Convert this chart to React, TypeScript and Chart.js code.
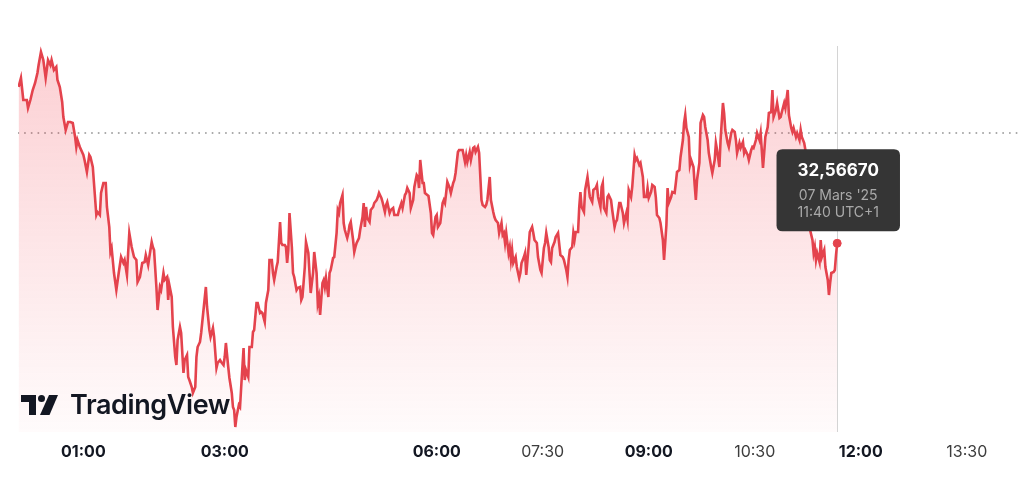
import React, { useEffect, useRef } from 'react';
import Chart from 'chart.js/auto';

// minutes since 00:00 (UTC+1), 07 Mar 2025
const times: number[] = [
    5, 7, 9, 12, 13, 15, 17, 19, 21, 22,
    24, 26, 28, 30, 32, 33, 35, 37, 38, 40,
    42, 43, 45, 47, 49, 51, 53, 54, 55, 57,
    60, 61, 63, 65, 66, 68, 69, 71, 72, 74,
    75, 77, 79, 80, 82, 83, 84, 86, 88, 90,
    92, 94, 95, 97, 98, 99, 101, 103, 105, 106,
    108, 110, 112, 113, 115, 116, 118, 119, 120, 122,
    123, 125, 126, 128, 129, 131, 132, 133, 135, 136,
    138, 139, 140, 142, 143, 145, 146, 148, 149, 150,
    152, 153, 155, 156, 157, 159, 160, 162, 164, 165,
    167, 168, 170, 171, 173, 174, 176, 177, 179, 180,
    181, 183, 184, 186, 187, 188, 189, 190, 192, 193,
    194, 196, 197, 198, 200, 201, 203, 204, 205, 207,
    208, 210, 211, 212, 214, 215, 217, 218, 220, 221,
    222, 224, 225, 227, 228, 229, 231, 232, 233, 234,
    235, 237, 238, 239, 241, 242, 244, 245, 246, 248,
    249, 251, 252, 253, 255, 256, 258, 259, 260, 261,
    263, 264, 265, 266, 268, 269, 270, 272, 273, 275,
    276, 277, 278, 280, 281, 282, 284, 285, 286, 287,
    289, 290, 291, 292, 294, 295, 297, 298, 299, 300,
    301, 303, 304, 306, 307, 309, 310, 311, 313, 314,
    316, 317, 318, 320, 321, 323, 324, 327, 328, 330,
    331, 333, 334, 335, 337, 338, 340, 341, 343, 344,
    345, 346, 348, 349, 350, 352, 353, 355, 356, 357,
    359, 360, 361, 363, 365, 366, 367, 368, 369, 371,
    372, 374, 375, 376, 378, 379, 381, 382, 384, 385,
    386, 388, 389, 391, 392, 393, 395, 396, 398, 399,
    401, 402, 403, 405, 406, 408, 409, 410, 412, 413,
    415, 416, 417, 418, 419, 421, 422, 423, 424, 425,
    427, 428, 430, 431, 432, 434, 435, 436, 438, 439,
    441, 442, 443, 445, 446, 448, 449, 451, 452, 453,
    455, 456, 457, 458, 460, 461, 463, 464, 465, 467,
    468, 470, 471, 472, 473, 475, 476, 477, 478, 480,
    481, 482, 483, 485, 486, 488, 489, 490, 492, 493,
    495, 496, 497, 499, 500, 501, 502, 504, 505, 506,
    508, 509, 511, 512, 513, 515, 516, 518, 519, 521,
    522, 523, 525, 526, 528, 529, 530, 532, 533, 535,
    536, 538, 539, 540, 542, 543, 545, 546, 547, 549,
    550, 552, 553, 555, 556, 557, 559, 560, 562, 563,
    564, 566, 567, 569, 570, 571, 572, 574, 575, 576,
    578, 579, 580, 581, 583, 584, 586, 587, 588, 590,
    591, 593, 594, 596, 597, 598, 600, 601, 603, 604,
    605, 607, 608, 610, 611, 613, 614, 615, 617, 618,
    620, 621, 622, 624, 625, 627, 628, 629, 631, 632,
    634, 635, 637, 638, 639, 641, 642, 644, 645, 646,
    648, 649, 651, 652, 653, 655, 656, 658, 659, 661,
    662, 663, 665, 666, 668, 669, 670, 672, 673, 674,
    676, 677, 679, 680, 681, 682, 683, 685, 686, 687,
    689, 690, 692, 693, 694, 695, 697, 698, 699, 700,
];

const prices: number[] = [
    32.723, 32.732, 32.710, 32.710, 32.702, 32.710, 32.720, 32.727, 32.737, 32.745,
    32.758, 32.750, 32.732, 32.750, 32.745, 32.750, 32.740, 32.743, 32.730, 32.723,
    32.708, 32.693, 32.680, 32.688, 32.688, 32.687, 32.673, 32.663, 32.670, 32.663,
    32.655, 32.650, 32.638, 32.655, 32.653, 32.643, 32.627, 32.595, 32.598, 32.595,
    32.617, 32.627, 32.627, 32.603, 32.583, 32.558, 32.562, 32.537, 32.520, 32.537,
    32.553, 32.547, 32.550, 32.535, 32.557, 32.577, 32.563, 32.553, 32.550, 32.528,
    32.533, 32.547, 32.548, 32.555, 32.545, 32.553, 32.568, 32.563, 32.560, 32.523,
    32.500, 32.523, 32.520, 32.537, 32.530, 32.533, 32.510, 32.525, 32.513, 32.483,
    32.453, 32.445, 32.470, 32.483, 32.477, 32.437, 32.450, 32.455, 32.433, 32.430,
    32.423, 32.417, 32.423, 32.453, 32.463, 32.468, 32.477, 32.500, 32.523, 32.503,
    32.480, 32.473, 32.482, 32.473, 32.442, 32.447, 32.450, 32.448, 32.445, 32.453,
    32.467, 32.443, 32.432, 32.417, 32.403, 32.400, 32.383, 32.393, 32.405, 32.403,
    32.423, 32.462, 32.430, 32.440, 32.433, 32.463, 32.463, 32.478, 32.480, 32.507,
    32.507, 32.497, 32.498, 32.497, 32.488, 32.507, 32.520, 32.550, 32.550, 32.537,
    32.530, 32.543, 32.548, 32.588, 32.567, 32.565, 32.565, 32.563, 32.547, 32.560,
    32.597, 32.563, 32.537, 32.533, 32.520, 32.522, 32.523, 32.510, 32.513, 32.543,
    32.568, 32.557, 32.537, 32.517, 32.537, 32.558, 32.537, 32.507, 32.513, 32.495,
    32.527, 32.530, 32.523, 32.532, 32.513, 32.537, 32.540, 32.552, 32.553, 32.577,
    32.600, 32.597, 32.607, 32.615, 32.587, 32.580, 32.572, 32.577, 32.585, 32.588,
    32.570, 32.558, 32.563, 32.567, 32.572, 32.580, 32.593, 32.607, 32.583, 32.603,
    32.592, 32.588, 32.600, 32.603, 32.607, 32.610, 32.613, 32.617, 32.612, 32.608,
    32.598, 32.605, 32.608, 32.597, 32.600, 32.602, 32.595, 32.595, 32.600, 32.607,
    32.602, 32.615, 32.617, 32.622, 32.617, 32.602, 32.610, 32.623, 32.635, 32.633,
    32.622, 32.650, 32.627, 32.627, 32.617, 32.615, 32.614, 32.597, 32.577, 32.575,
    32.593, 32.595, 32.583, 32.587, 32.607, 32.610, 32.607, 32.617, 32.628, 32.622,
    32.617, 32.627, 32.630, 32.637, 32.658, 32.660, 32.660, 32.660, 32.648, 32.655,
    32.648, 32.658, 32.650, 32.662, 32.663, 32.658, 32.663, 32.657, 32.610, 32.605,
    32.603, 32.605, 32.610, 32.633, 32.610, 32.598, 32.593, 32.590, 32.587, 32.577,
    32.587, 32.575, 32.577, 32.567, 32.577, 32.557, 32.563, 32.550, 32.560, 32.547,
    32.553, 32.543, 32.532, 32.537, 32.547, 32.553, 32.557, 32.535, 32.563, 32.578,
    32.583, 32.577, 32.570, 32.567, 32.553, 32.540, 32.537, 32.562, 32.567, 32.577,
    32.563, 32.550, 32.548, 32.562, 32.568, 32.573, 32.577, 32.566, 32.555, 32.553,
    32.550, 32.540, 32.533, 32.550, 32.560, 32.563, 32.577, 32.570, 32.578, 32.578,
    32.603, 32.618, 32.603, 32.598, 32.620, 32.633, 32.623, 32.613, 32.608, 32.620,
    32.622, 32.625, 32.613, 32.603, 32.623, 32.627, 32.602, 32.597, 32.613, 32.615,
    32.610, 32.600, 32.583, 32.588, 32.590, 32.607, 32.607, 32.597, 32.587, 32.597,
    32.590, 32.620, 32.613, 32.623, 32.655, 32.650, 32.652, 32.645, 32.647, 32.633,
    32.613, 32.613, 32.622, 32.612, 32.618, 32.625, 32.623, 32.613, 32.595, 32.592,
    32.587, 32.570, 32.550, 32.585, 32.622, 32.607, 32.613, 32.618, 32.617, 32.627,
    32.638, 32.640, 32.653, 32.670, 32.687, 32.695, 32.682, 32.673, 32.645, 32.650,
    32.643, 32.625, 32.610, 32.630, 32.647, 32.687, 32.695, 32.693, 32.683, 32.670,
    32.657, 32.643, 32.637, 32.650, 32.667, 32.660, 32.643, 32.670, 32.707, 32.697,
    32.680, 32.667, 32.663, 32.677, 32.680, 32.678, 32.670, 32.657, 32.667, 32.662,
    32.668, 32.657, 32.660, 32.655, 32.650, 32.660, 32.663, 32.662, 32.670, 32.677,
    32.670, 32.677, 32.642, 32.657, 32.673, 32.683, 32.697, 32.698, 32.720, 32.693,
    32.700, 32.707, 32.692, 32.693, 32.698, 32.707, 32.702, 32.720, 32.695, 32.682,
    32.678, 32.682, 32.673, 32.677, 32.670, 32.680, 32.673, 32.667, 32.660, 32.635,
    32.605, 32.580, 32.570, 32.557, 32.563, 32.550, 32.557, 32.548, 32.570, 32.553,
    32.560, 32.543, 32.530, 32.515, 32.527, 32.537, 32.538, 32.540, 32.555, 32.5667,
];

const prevClose = 32.677;
const dateLabel = "07 Mars '25";
const tickMinutes = [60, 180, 360, 450, 540, 630, 720, 810];
const boldMinutes = [60, 180, 360, 540, 720];

const xMin = 4.5;
const xMax = 857.5;
const yMin = 32.378;
const yMax = 32.764;

const lineRed = '#e4434d';

const hhmm = (m: number) => {
    const h = Math.floor(m / 60);
    const mm = Math.round(m % 60);
    return `${String(h).padStart(2, '0')}:${String(mm).padStart(2, '0')}`;
};

// vertical hover line through the last point
const crosshair = {
    id: 'crosshair',
    beforeDatasetsDraw(chart: any) {
        const meta = chart.getDatasetMeta(0);
        const pt = meta.data[meta.data.length - 1];
        if (!pt) return;
        const { ctx, chartArea } = chart;
        const x = Math.round(pt.x) + 0.5;
        ctx.save();
        ctx.strokeStyle = '#d4d4d4';
        ctx.lineWidth = 1;
        ctx.beginPath();
        ctx.moveTo(x, chartArea.top);
        ctx.lineTo(x, chartArea.bottom);
        ctx.stroke();
        ctx.restore();
    },
};

const PriceChart: React.FC = () => {
    const canvasRef = useRef<HTMLCanvasElement>(null);

    useEffect(() => {
        if (!canvasRef.current) return;
        const ctx = canvasRef.current.getContext('2d');
        if (!ctx) return;

        const chart = new Chart(ctx, {
            type: 'line',
            data: {
                datasets: [
                    {
                        data: times.map((t, i) => ({ x: t, y: prices[i] })),
                        borderColor: lineRed,
                        borderWidth: 2.6,
                        pointRadius: 0,
                        pointHoverRadius: 4,
                        pointHoverBackgroundColor: lineRed,
                        pointHoverBorderColor: lineRed,
                        pointHoverBorderWidth: 1,
                        tension: 0,
                        fill: 'start',
                        backgroundColor: (c: any) => {
                            const area = c.chart.chartArea;
                            if (!area) return 'rgba(242,54,69,0.1)';
                            const g = c.chart.ctx.createLinearGradient(0, area.top, 0, area.bottom);
                            g.addColorStop(0, 'rgba(242,54,69,0.24)');
                            g.addColorStop(1, 'rgba(242,54,69,0.02)');
                            return g;
                        },
                    },
                    {
                        data: [
                            { x: xMin, y: prevClose },
                            { x: xMax, y: prevClose },
                        ],
                        borderColor: '#8c8c8c',
                        borderWidth: 1.5,
                        borderDash: [0.5, 6.2],
                        borderCapStyle: 'round',
                        pointRadius: 0,
                        pointHoverRadius: 0,
                        fill: false,
                    },
                ],
            },
            options: {
                animation: false,
                responsive: false,
                events: [],
                layout: { padding: { left: 18, right: 0, top: 46, bottom: 14.8 } },
                scales: {
                    x: {
                        type: 'linear',
                        min: xMin,
                        max: xMax,
                        grid: { display: false, drawTicks: false },
                        border: { display: false },
                        afterBuildTicks: (scale: any) => {
                            scale.ticks = tickMinutes.map((v) => ({ value: v }));
                        },
                        ticks: {
                            autoSkip: false,
                            maxRotation: 0,
                            padding: 11,
                            callback: (v: any) => hhmm(Number(v)),
                            font: (c: any) => ({
                                family: 'Inter',
                                size: 16,
                                weight: boldMinutes.includes(c.tick?.value) ? 'bold' : 'normal',
                            }),
                            color: (c: any) =>
                                boldMinutes.includes(c.tick?.value) ? '#131722' : '#3d3d3d',
                        },
                    },
                    y: { display: false, min: yMin, max: yMax },
                },
                plugins: {
                    legend: { display: false },
                    tooltip: {
                        enabled: true,
                        xAlign: 'center',
                        yAlign: 'bottom',
                        caretSize: 0,
                        caretPadding: 12,
                        backgroundColor: '#353535',
                        cornerRadius: 6,
                        padding: { top: 11, bottom: 10, left: 21, right: 21 },
                        displayColors: false,
                        titleAlign: 'center',
                        bodyAlign: 'center',
                        titleFont: { family: 'Inter', size: 17, weight: 'bold' },
                        titleColor: '#ffffff',
                        titleMarginBottom: 7,
                        bodyFont: { family: 'Inter', size: 14 },
                        bodyColor: '#a9a9a9',
                        bodySpacing: 0,
                        callbacks: {
                            title: (items: any[]) => items[0].parsed.y.toFixed(5).replace('.', ','),
                            label: (item: any) => [dateLabel, `${hhmm(item.parsed.x)} UTC+1`],
                        },
                    },
                },
            },
            plugins: [crosshair],
        });

        const last = times.length - 1;
        chart.setActiveElements([{ datasetIndex: 0, index: last }]);
        chart.tooltip?.setActiveElements([{ datasetIndex: 0, index: last }], { x: 0, y: 0 });
        chart.update();

        return () => {
            chart.destroy();
        };
    }, []);

    return <canvas ref={canvasRef} width={1024} height={488} style={{ width: 1024, height: 488, display: 'block' }}></canvas>;
};

const App: React.FC = () => {
    return (
        <div style={{ position: 'fixed', left: 0, top: 0, width: 1024, height: 488, background: '#ffffff' }}>
            <PriceChart />
            <div style={{ position: 'absolute', left: 21, top: 395, width: 37, height: 20 }}>
                <svg width={37} height={20} viewBox="0 0 37 20">
                    <path d="M0 0H15V20H8V7H0Z" fill="#131722" />
                    <circle cx={20.5} cy={3.5} r={3.5} fill="#131722" />
                    <path d="M28 0H37L28.5 20H19Z" fill="#131722" />
                </svg>
            </div>
            <div
                style={{
                    position: 'absolute',
                    left: 70,
                    top: 391,
                    fontFamily: 'Inter',
                    fontWeight: 600,
                    fontSize: 27,
                    lineHeight: '28px',
                    letterSpacing: -0.4,
                    color: '#131722',
                    whiteSpace: 'nowrap',
                }}
            >
                TradingView
            </div>
        </div>
    );
};

export default App;
